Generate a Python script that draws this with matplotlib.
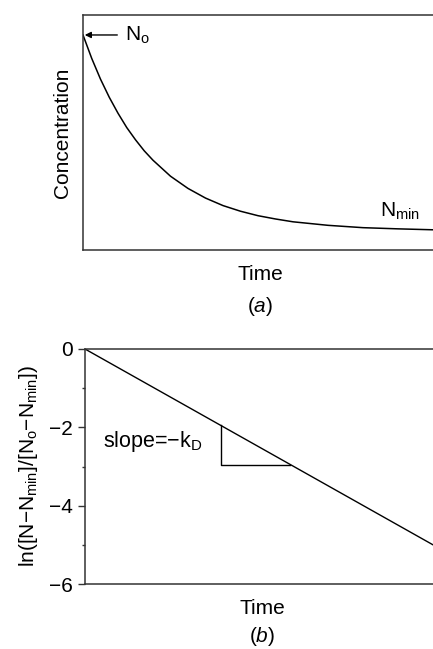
import numpy as np
import matplotlib
matplotlib.use("Agg")
import matplotlib.pyplot as plt

plt.rcParams['font.family'] = ['Liberation Sans', 'DejaVu Sans']
plt.rcParams['mathtext.fontset'] = 'custom'
plt.rcParams['mathtext.rm'] = 'Liberation Sans'
plt.rcParams['mathtext.it'] = 'Liberation Sans:italic'
plt.rcParams['mathtext.default'] = 'regular'

# --- data ---
# (a) concentration decay curve (relative units)
conc_time = [0.0, 0.25, 0.5, 0.75, 1.0, 1.25, 1.5, 1.75, 2.0, 2.5, 3.0, 3.5,
             4.0, 4.5, 5.0, 5.5, 6.0, 7.0, 8.0, 9.0, 10.0]
conc_vals = [0.915, 0.815, 0.727, 0.650, 0.582, 0.521, 0.469, 0.422, 0.382,
             0.314, 0.262, 0.221, 0.189, 0.165, 0.146, 0.132, 0.120, 0.105,
             0.095, 0.090, 0.086]

# (b) linearised plot
lin_time = [0.0, 10.0]
lin_vals = [0.0, -5.0]
tri_time = [3.9, 3.9, 5.9]
tri_vals = [-1.95, -2.95, -2.95]
y_major = [0, -2, -4, -6]
y_minor = [-1, -3, -5]

W, H = 433, 649
fig = plt.figure(figsize=(W / 100, H / 100), dpi=100)

def px_box(left, top, right, bottom):
    return [left / W, 1 - bottom / H, (right - left) / W, (bottom - top) / H]

spine_col = '#333333'
fs = 15

# =============================================================================
#  (a) Concentration vs time
# =============================================================================
ax1 = fig.add_axes(px_box(83, 15, 433, 250))
ax1.plot(conc_time, conc_vals, color='black', lw=1.1)
ax1.set_xlim(0, 10)
ax1.set_ylim(0, 1)
ax1.set_xticks([])
ax1.set_yticks([])
for s in ['left', 'top', 'bottom']:
    ax1.spines[s].set_color(spine_col)
    ax1.spines[s].set_linewidth(1.1)
ax1.spines['right'].set_visible(False)
ax1.set_ylabel('Concentration', fontsize=fs, labelpad=8)

ax1.annotate('', xy=(0.05, conc_vals[0]), xytext=(0.98, conc_vals[0]),
             arrowprops=dict(arrowstyle='-|>', color='black', lw=1.0,
                             mutation_scale=9, shrinkA=0, shrinkB=0))
ax1.text(1.2, conc_vals[0], r'N$_\mathrm{o}$', fontsize=fs, va='center', ha='left')
ax1.text(8.5, 0.165, r'N$_\mathrm{min}$', fontsize=fs, va='center', ha='left')

fig.text(260 / W, 1 - 275 / H, 'Time', fontsize=fs, ha='center', va='center')
fig.text(260 / W, 1 - 307 / H, r'($\mathit{a}$)', fontsize=fs, ha='center', va='center')

# =============================================================================
#  (b) ln plot
# =============================================================================
ax2 = fig.add_axes(px_box(85, 349, 433, 584))
ax2.plot(lin_time, lin_vals, color='black', lw=1.0)
ax2.plot(tri_time, tri_vals, color='black', lw=1.0)
ax2.set_xlim(0, 10)
ax2.set_ylim(-6, 0)
ax2.set_xticks([])
ax2.set_yticks(y_major)
ax2.set_yticklabels(['0', '\u22122', '\u22124', '\u22126'])
ax2.set_yticks(y_minor, minor=True)
ax2.tick_params(axis='y', which='major', direction='out', length=5, width=1.0,
                labelsize=fs, pad=4, color=spine_col)
ax2.tick_params(axis='y', which='minor', direction='out', length=2.5, width=1.0,
                color=spine_col)
for s in ['left', 'top', 'bottom']:
    ax2.spines[s].set_color(spine_col)
    ax2.spines[s].set_linewidth(1.1)
ax2.spines['right'].set_visible(False)
ax2.set_ylabel(r'ln([N$-$N$_\mathrm{min}$]/[N$_\mathrm{o}$$-$N$_\mathrm{min}$])',
               fontsize=fs, labelpad=6)

ax2.text(0.52, -2.37, r'slope=$-$k$_\mathrm{D}$', fontsize=15.5, va='center', ha='left')

fig.text(262 / W, 1 - 608 / H, 'Time', fontsize=fs, ha='center', va='center')
fig.text(262 / W, 1 - 636 / H, r'($\mathit{b}$)', fontsize=fs, ha='center', va='center')

fig.savefig('out.png', dpi=100)
